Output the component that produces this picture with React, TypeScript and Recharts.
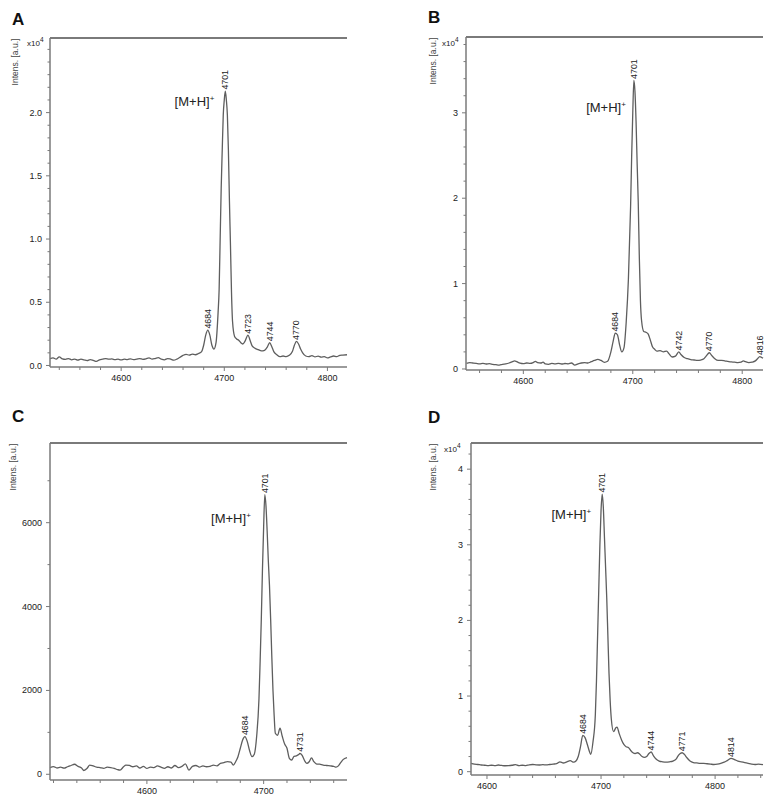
import React from 'react';
import { LineChart, Line, XAxis, YAxis, ReferenceLine } from 'recharts';

type Pt = [number, number];

// ---------- Panel A (x10^4) ----------
const specA: Pt[] = [
  [4531,0.055],[4534,0.06],[4537,0.05],[4540,0.068],[4543,0.052],[4546,0.048],[4549,0.055],[4552,0.045],
  [4555,0.05],[4558,0.042],[4561,0.05],[4564,0.044],[4567,0.038],[4570,0.046],[4573,0.04],[4576,0.032],
  [4579,0.045],[4582,0.05],[4585,0.055],[4588,0.05],[4591,0.052],[4594,0.046],[4597,0.05],[4600,0.044],
  [4603,0.05],[4606,0.047],[4609,0.053],[4612,0.046],[4615,0.05],[4618,0.055],[4621,0.048],[4624,0.052],
  [4627,0.06],[4630,0.05],[4633,0.055],[4636,0.062],[4639,0.05],[4642,0.045],[4645,0.055],[4648,0.05],
  [4651,0.042],[4654,0.05],[4657,0.065],[4660,0.08],[4663,0.088],[4666,0.082],[4669,0.09],[4672,0.085],
  [4675,0.095],[4678,0.11],[4680,0.16],[4682,0.24],[4684,0.28],[4686,0.24],[4688,0.16],[4690,0.13],
  [4692,0.18],[4694,0.42],[4695,0.6],[4696,1.0],[4697,1.4],[4698,1.7],[4699,1.98],[4700,2.1],[4701,2.17],
  [4702,2.1],[4703,1.98],[4704,1.7],[4705,1.3],[4706,0.95],[4707,0.58],[4708,0.35],[4710,0.23],[4712,0.21],
  [4714,0.2],[4716,0.18],[4718,0.17],[4720,0.19],[4723,0.24],[4725,0.2],[4727,0.155],[4730,0.135],
  [4733,0.125],[4736,0.115],[4739,0.12],[4742,0.15],[4744,0.18],[4746,0.15],[4748,0.11],[4751,0.085],
  [4754,0.07],[4757,0.075],[4760,0.07],[4763,0.08],[4766,0.11],[4768,0.16],[4770,0.19],[4772,0.17],
  [4774,0.13],[4776,0.1],[4779,0.075],[4782,0.07],[4785,0.078],[4788,0.068],[4791,0.074],[4794,0.066],
  [4797,0.07],[4800,0.06],[4803,0.068],[4806,0.075],[4809,0.07],[4812,0.08],[4815,0.082],[4819,0.085],
];
const peaksA = [4684, 4701, 4723, 4744, 4770];
const xTicksA = [4540,4560,4580,4600,4620,4640,4660,4680,4700,4720,4740,4760,4780,4800];
const yTicksA = [0,0.1,0.2,0.3,0.4,0.5,0.6,0.7,0.8,0.9,1,1.1,1.2,1.3,1.4,1.5,1.6,1.7,1.8,1.9,2,2.1,2.2,2.3,2.4,2.5];
const yLabelsA = [0, 0.5, 1, 1.5, 2];

// ---------- Panel B (x10^4) ----------
const specB: Pt[] = [
  [4548,0.066],[4551,0.075],[4554,0.07],[4557,0.065],[4560,0.06],[4563,0.066],[4566,0.058],[4569,0.062],
  [4572,0.055],[4575,0.05],[4578,0.046],[4581,0.055],[4584,0.06],[4587,0.07],[4590,0.085],[4592,0.095],
  [4594,0.085],[4597,0.068],[4600,0.062],[4603,0.07],[4606,0.065],[4609,0.075],[4611,0.09],[4613,0.075],
  [4616,0.07],[4618,0.08],[4620,0.06],[4623,0.055],[4626,0.065],[4629,0.06],[4632,0.066],[4635,0.058],
  [4638,0.064],[4641,0.06],[4644,0.07],[4647,0.045],[4650,0.06],[4653,0.07],[4656,0.075],[4659,0.07],
  [4662,0.085],[4665,0.1],[4668,0.112],[4671,0.1],[4674,0.078],[4677,0.09],[4680,0.2],[4682,0.32],
  [4684,0.42],[4686,0.4],[4688,0.28],[4690,0.2],[4692,0.25],[4694,0.55],[4696,1.05],[4698,1.9],
  [4699,2.5],[4700,3.0],[4701,3.38],[4702,3.25],[4703,2.9],[4704,2.4],[4705,1.95],[4706,1.3],[4707,0.8],
  [4708,0.57],[4710,0.44],[4712,0.43],[4714,0.41],[4716,0.34],[4718,0.26],[4720,0.23],[4722,0.21],
  [4725,0.215],[4728,0.2],[4731,0.21],[4733,0.18],[4736,0.14],[4739,0.15],[4742,0.2],[4744,0.17],
  [4747,0.135],[4750,0.12],[4753,0.11],[4756,0.105],[4759,0.1],[4762,0.105],[4765,0.12],[4767,0.15],
  [4770,0.19],[4772,0.16],[4775,0.12],[4778,0.1],[4781,0.1],[4784,0.095],[4787,0.088],[4790,0.082],
  [4793,0.08],[4796,0.075],[4799,0.08],[4801,0.095],[4803,0.085],[4806,0.075],[4809,0.08],[4812,0.095],
  [4814,0.12],[4816,0.145],[4819,0.125],
];
const peaksB = [4684, 4701, 4742, 4770, 4816];
const xTicksB = [4560,4580,4600,4620,4640,4660,4680,4700,4720,4740,4760,4780,4800];
const yTicksB = [0,0.2,0.4,0.6,0.8,1,1.2,1.4,1.6,1.8,2,2.2,2.4,2.6,2.8,3,3.2,3.4,3.6,3.8];
const yLabelsB = [0, 1, 2, 3];

// ---------- Panel C (absolute) ----------
const specC: Pt[] = [
  [4517,160],[4520,185],[4523,150],[4526,170],[4529,145],[4532,180],[4535,210],[4538,240],[4541,190],
  [4544,150],[4546,90],[4549,150],[4551,220],[4554,200],[4557,170],[4560,160],[4563,140],[4566,170],
  [4569,160],[4572,140],[4575,110],[4577,100],[4580,180],[4582,220],[4585,210],[4588,180],[4591,200],
  [4594,150],[4597,190],[4600,140],[4603,170],[4606,160],[4609,200],[4612,170],[4615,140],[4618,180],
  [4621,150],[4624,210],[4627,160],[4630,190],[4633,250],[4636,100],[4639,190],[4642,210],[4645,170],
  [4648,200],[4651,180],[4654,190],[4657,220],[4660,200],[4663,260],[4666,280],[4669,300],[4672,290],
  [4674,220],[4676,300],[4678,420],[4680,620],[4682,820],[4684,900],[4686,780],[4688,560],[4690,420],
  [4692,480],[4694,900],[4696,1800],[4697,2700],[4698,3700],[4699,4900],[4700,5900],[4701,6670],
  [4702,6400],[4703,5800],[4704,5100],[4705,4500],[4706,3700],[4707,2800],[4708,2000],[4709,1400],
  [4710,980],[4712,930],[4714,1100],[4716,900],[4718,720],[4720,620],[4722,380],[4724,340],[4726,430],
  [4728,440],[4730,470],[4731,500],[4733,450],[4735,330],[4737,260],[4739,300],[4741,390],[4743,300],
  [4745,250],[4748,240],[4751,220],[4754,210],[4757,200],[4760,190],[4762,170],[4764,200],[4766,280],
  [4768,350],[4771.4,400],
];
const peaksC = [4684, 4701, 4731];
const xTicksC = [4520,4540,4560,4580,4600,4620,4640,4660,4680,4700,4720,4740,4760];
const yTicksC = [0,1000,2000,3000,4000,5000,6000,7000];
const yLabelsC = [0, 2000, 4000, 6000];

// ---------- Panel D (x10^4) ----------
const specD: Pt[] = [
  [4586,0.11],[4589,0.1],[4592,0.095],[4595,0.088],[4598,0.085],[4601,0.08],[4604,0.085],[4607,0.08],
  [4610,0.088],[4613,0.082],[4616,0.078],[4619,0.08],[4622,0.085],[4625,0.092],[4628,0.08],[4631,0.085],
  [4634,0.08],[4637,0.09],[4640,0.095],[4643,0.09],[4646,0.088],[4649,0.092],[4652,0.09],[4655,0.095],
  [4658,0.1],[4661,0.105],[4664,0.13],[4667,0.115],[4670,0.13],[4673,0.145],[4676,0.125],[4678,0.14],
  [4680,0.2],[4682,0.33],[4684,0.48],[4686,0.45],[4688,0.36],[4690,0.26],[4691,0.23],[4693,0.4],
  [4695,0.75],[4696,1.2],[4697,1.8],[4698,2.4],[4699,3.0],[4700,3.45],[4701,3.67],[4702,3.5],[4703,3.1],
  [4704,2.7],[4705,2.3],[4706,1.8],[4707,1.3],[4708,0.94],[4709,0.7],[4711,0.53],[4713,0.58],[4714,0.59],
  [4716,0.5],[4718,0.42],[4720,0.36],[4722,0.33],[4724,0.32],[4726,0.28],[4728,0.25],[4730,0.24],
  [4732,0.25],[4734,0.23],[4736,0.2],[4738,0.19],[4740,0.2],[4742,0.24],[4744,0.26],[4746,0.21],
  [4748,0.17],[4751,0.14],[4754,0.13],[4757,0.125],[4760,0.13],[4763,0.14],[4766,0.17],[4768,0.22],
  [4771,0.25],[4773,0.23],[4775,0.19],[4778,0.14],[4781,0.12],[4784,0.115],[4787,0.11],[4790,0.11],
  [4793,0.105],[4796,0.1],[4799,0.095],[4802,0.1],[4805,0.11],[4808,0.125],[4811,0.15],[4814,0.175],
  [4817,0.16],[4820,0.14],[4823,0.13],[4826,0.12],[4829,0.11],[4832,0.1],[4835,0.095],[4838,0.1],
  [4842,0.093],
];
const peaksD = [4684, 4701, 4744, 4771, 4814];
const xTicksD = [4600,4620,4640,4660,4680,4700,4720,4740,4760,4780,4800,4820,4840];
const yTicksD = [0,0.2,0.4,0.6,0.8,1,1.2,1.4,1.6,1.8,2,2.2,2.4,2.6,2.8,3,3.2,3.4,3.6,3.8,4,4.2];
const yLabelsD = [0, 1, 2, 3, 4];

const xLabels = [4600, 4700, 4800];
const mainPeak = 4701;

const FONT = 'Arial, "Liberation Sans", Helvetica, sans-serif';
const AXIS = '#7a7a7a';
const LINE = '#5e5e5e';
const TXT = '#222';

type Cfg = {
  left: number; top: number; width: number; height: number;
  x0: number; y0: number; x1: number; y1: number;
  xDomain: [number, number]; yDomain: [number, number];
  xTicks: number[]; yTicks: number[]; yLabels: number[];
  fmt: (v: number) => string;
  spec: Pt[]; peaks: number[]; mh: [number, number];
};

const isIn = (list: number[], v: number) => list.some((l) => Math.abs(l - v) < 1e-6);

function Panel({ c }: { c: Cfg }) {
  const data = c.spec.map(([mz, v]) => ({ mz, v, lab: isIn(c.peaks, mz) ? String(mz) : '' }));
  const axisX = c.x0 - c.left;
  const axisY = c.y1 - c.top;

  const yTick = (p: any) => {
    const v = p.payload.value;
    const major = isIn(c.yLabels, v);
    const len = major ? 4 : 2.5;
    return (
      <g>
        <line x1={axisX - len} x2={axisX} y1={p.y} y2={p.y} stroke={AXIS} strokeWidth={1} />
        {major && (
          <text x={axisX - 8} y={p.y} dy="0.34em" textAnchor="end" fontSize={9} fontFamily={FONT} fill={TXT}>
            {c.fmt(v)}
          </text>
        )}
      </g>
    );
  };

  const xTick = (p: any) => {
    const v = p.payload.value;
    const major = isIn(xLabels, v);
    const len = major ? 4 : 3;
    return (
      <g>
        <line x1={p.x} x2={p.x} y1={axisY} y2={axisY + len} stroke={AXIS} strokeWidth={1} />
        {major && (
          <text x={p.x} y={axisY + 14} textAnchor="middle" fontSize={9} fontFamily={FONT} fill={TXT}>
            {String(v)}
          </text>
        )}
      </g>
    );
  };

  const dot = (p: any) => {
    const { cx, cy, payload, index } = p;
    if (!payload || !payload.lab) return <g key={`d${index}`} />;
    const main = payload.mz === mainPeak;
    const ty = cy - 1.5;
    return (
      <g key={`d${index}`}>
        <text
          x={cx}
          y={ty}
          dy="0.34em"
          transform={`rotate(-90 ${cx} ${ty})`}
          textAnchor="start"
          fontSize={8.8}
          fontFamily={FONT}
          fill="#222"
        >
          {payload.lab}
        </text>
        {main && (
          <text x={cx + c.mh[0]} y={cy + c.mh[1]} textAnchor="end" fontSize={13} fontFamily={FONT} fill={TXT}>
            [M+H]<tspan dy={-5} fontSize={8}>+</tspan>
          </text>
        )}
      </g>
    );
  };

  return (
    <div style={{ position: 'absolute', left: c.left, top: c.top }}>
      <LineChart
        width={c.width}
        height={c.height}
        data={data}
        margin={{ top: c.y0 - c.top, right: c.left + c.width - c.x1, bottom: 0, left: 0 }}
      >
        <XAxis
          dataKey="mz"
          type="number"
          domain={c.xDomain}
          ticks={c.xTicks}
          interval={0}
          height={c.top + c.height - c.y1}
          tick={xTick}
          tickLine={false}
          axisLine={{ stroke: AXIS, strokeWidth: 1.5 }}
        />
        <YAxis
          type="number"
          domain={c.yDomain}
          ticks={c.yTicks}
          interval={0}
          width={axisX}
          tick={yTick}
          tickLine={false}
          axisLine={{ stroke: AXIS, strokeWidth: 1.5 }}
        />
        <ReferenceLine y={c.yDomain[1]} stroke={AXIS} strokeWidth={1.8} />
        <Line
          dataKey="v"
          type="monotone"
          stroke={LINE}
          strokeWidth={1.3}
          dot={dot}
          activeDot={false}
          isAnimationActive={false}
        />
      </LineChart>
    </div>
  );
}

const panels: Cfg[] = [
  {
    left: 0, top: 0, width: 380, height: 400, x0: 50, y0: 38, x1: 347, y1: 367,
    xDomain: [4531, 4819], yDomain: [-0.012, 2.59],
    xTicks: xTicksA, yTicks: yTicksA, yLabels: yLabelsA, fmt: (v) => v.toFixed(1),
    spec: specA, peaks: peaksA, mh: [-11, 15],
  },
  {
    left: 385, top: 0, width: 382, height: 400, x0: 466, y0: 37, x1: 763, y1: 370,
    xDomain: [4547.6, 4819], yDomain: [-0.012, 3.888],
    xTicks: xTicksB, yTicks: yTicksB, yLabels: yLabelsB, fmt: (v) => String(v),
    spec: specB, peaks: peaksB, mh: [-8, 32],
  },
  {
    left: 0, top: 400, width: 380, height: 396, x0: 50, y0: 443, x1: 347, y1: 780,
    xDomain: [4517, 4771.4], yDomain: [-136, 7900],
    xTicks: xTicksC, yTicks: yTicksC, yLabels: yLabelsC, fmt: (v) => String(v),
    spec: specC, peaks: peaksC, mh: [-14, 28],
  },
  {
    left: 385, top: 400, width: 382, height: 396, x0: 471, y0: 443, x1: 763, y1: 775,
    xDomain: [4586, 4842], yDomain: [-0.044, 4.346],
    xTicks: xTicksD, yTicks: yTicksD, yLabels: yLabelsD, fmt: (v) => String(v),
    spec: specD, peaks: peaksD, mh: [-11, 25],
  },
];

const letters: [string, number, number][] = [
  ['A', 12, 25], ['B', 428, 23], ['C', 12, 422], ['D', 428, 423],
];
const intensLabels: [number, number][] = [[15, 62], [433, 61], [13, 467], [433, 467]];
const expLabels: [number, number][] = [[27, 46], [442, 46], [444, 452]];

export default function App() {
  return (
    <div style={{ position: 'absolute', left: 0, top: 0, width: 767, height: 796, background: '#fff', fontFamily: FONT }}>
      {panels.map((c, i) => (
        <Panel key={i} c={c} />
      ))}
      <svg width={767} height={796} style={{ position: 'absolute', left: 0, top: 0, pointerEvents: 'none' }}>
        {letters.map(([t, x, y]) => (
          <text key={t} x={x} y={y} fontSize={17} fontWeight="bold" fontFamily={FONT} fill="#111">
            {t}
          </text>
        ))}
        {intensLabels.map(([x, y], i) => (
          <text
            key={`i${i}`}
            x={x}
            y={y}
            dy="0.33em"
            transform={`rotate(-90 ${x} ${y})`}
            textAnchor="middle"
            fontSize={8.5}
            fontFamily={FONT}
            fill="#444"
          >
            Intens. [a.u.]
          </text>
        ))}
        {expLabels.map(([x, y], i) => (
          <text key={`e${i}`} x={x} y={y} fontSize={8} fontFamily={FONT} fill={TXT}>
            x10<tspan dy={-4} fontSize={6.5}>4</tspan>
          </text>
        ))}
      </svg>
    </div>
  );
}
